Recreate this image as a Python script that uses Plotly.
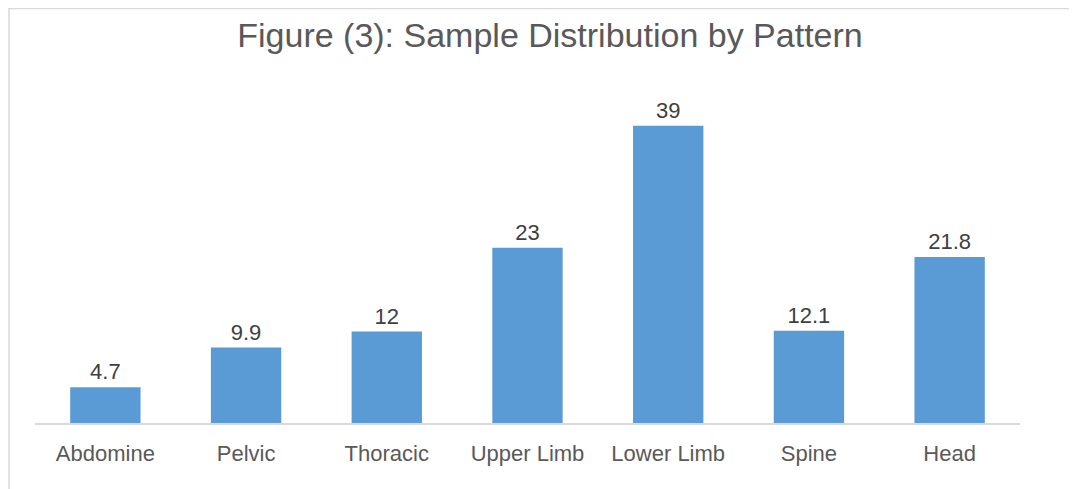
import plotly.graph_objects as go

categories = ["Abdomine", "Pelvic", "Thoracic", "Upper Limb", "Lower Limb", "Spine", "Head"]
values = [4.7, 9.9, 12, 23, 39, 12.1, 21.8]
value_labels = ["4.7", "9.9", "12", "23", "39", "12.1", "21.8"]

W, H = 1077, 489
ml, mr, mt, mb = 27, 65, 72, 74
pw, ph = W - ml - mr, H - mt - mb

fig = go.Figure(go.Bar(
    x=categories, y=values, text=value_labels,
    textposition="outside", cliponaxis=False, constraintext="none",
    textfont=dict(family="Liberation Sans, Arial", size=22, color="#404040"),
    marker=dict(color="#5B9BD5", line=dict(width=0)),
    hoverinfo="skip",
))

fig.update_layout(
    width=W, height=H,
    margin=dict(l=ml, r=mr, t=mt, b=mb),
    paper_bgcolor="white", plot_bgcolor="white",
    bargap=0.5, showlegend=False,
    title=dict(text="Figure (3): Sample Distribution by Pattern",
               x=542 / W, xanchor="center", y=1 - 27 / H, yanchor="middle", yref="container",
               font=dict(family="Liberation Sans, Arial", size=34, color="#595959")),
    xaxis=dict(showline=True, linecolor="#D9D9D9", linewidth=1.5, ticks="",
               ticklabelstandoff=10,
               tickfont=dict(family="Liberation Sans, Arial", size=22, color="#595959"),
               showgrid=False, zeroline=False),
    yaxis=dict(range=[0, ph / 7.62], visible=False, showgrid=False, zeroline=False),
    shapes=[dict(type="rect", xref="paper", yref="paper",
                 x0=(1 - ml) / pw, x1=(W + 20 - ml) / pw,
                 y0=-(mb + 20) / ph, y1=1 + (mt - 0.5) / ph,
                 line=dict(color="#D9D9D9", width=1.5), layer="below")],
)

fig.write_html("out.html")
